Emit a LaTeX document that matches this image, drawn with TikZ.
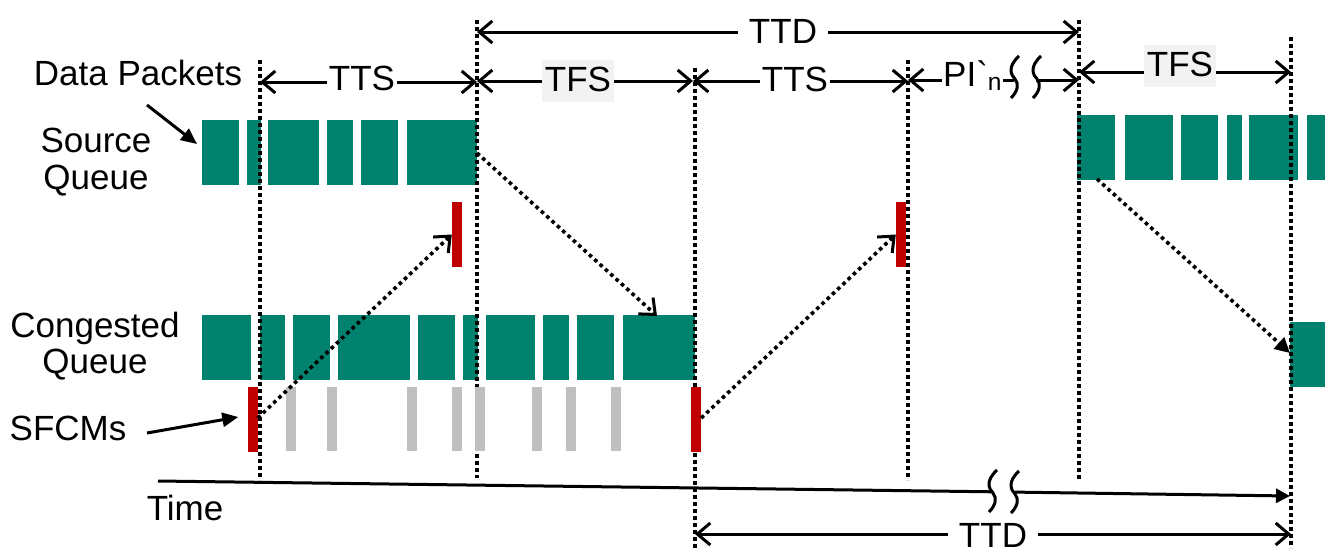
\documentclass[tikz,border=0pt]{standalone}
\usepackage{fontspec}
\setmainfont{Liberation Sans}
\usetikzlibrary{arrows.meta}
\definecolor{tealc}{HTML}{00826F}
\definecolor{redc}{HTML}{C00000}
\definecolor{grayc}{HTML}{BFBFBF}
\definecolor{lblbg}{HTML}{F2F2F2}
\newcommand\squigmark[2]{\draw[line width=3pt] (#1+4,#2-21) .. controls (#1-8,#2-10) and (#1-4,#2-2) .. (#1,#2+2) .. controls (#1+4,#2+7) and (#1+3,#2+14) .. (#1-4,#2+21);}
\begin{document}
\begin{tikzpicture}[x=1pt,y=-1pt,font=\fontsize{35}{40}\selectfont,
  txt/.style={inner sep=0pt,anchor=base},
  dimlbl/.style={fill=white,inner xsep=2pt,inner ysep=0pt,text height=25pt,text depth=3pt,anchor=base},
  ttdlbl/.style={dimlbl,inner xsep=11pt},
  graylbl/.style={fill=lblbg,inner xsep=3pt,inner ysep=6pt,text height=25pt,text depth=5pt,anchor=base},
  barb/.tip={Straight Barb[length=13pt,width=22pt]},
  dim/.style={line width=3pt,barb-barb},
  dimend/.style={line width=3pt,-barb},
  dimstart/.style={line width=3pt,barb-},
  vdot/.style={line width=3.6pt,dash pattern=on 3.6pt off 3.4pt},
  darr/.style={line width=3.6pt,dash pattern=on 3.6pt off 3.6pt,-{Straight Barb[length=13pt,width=22pt,line width=3pt]}},
  darrf/.style={line width=3.6pt,dash pattern=on 3.6pt off 3.6pt,-{Triangle[length=15pt,width=15pt]}},
  pointer/.style={line width=3pt,-{Triangle[length=16pt,width=14pt]}},
  redbar/.style={fill=redc,inner sep=0pt,minimum width=10pt,minimum height=65pt},
  graybar/.style={fill=grayc,inner sep=0pt,minimum width=10pt,minimum height=64pt},
  pkt/.style={fill=tealc}]
\useasboundingbox (0,0) rectangle (1325,558);

% packets: source queue (left)
\foreach \a/\b in {202/239,247/261,268/319,327/353,361/398,407/477}
  \fill[pkt] (\a,120) rectangle (\b,185);
% source queue (right)
\foreach \a/\b in {1077/1115,1125/1173,1181/1218,1227/1242,1249/1298,1307/1325}
  \fill[pkt] (\a,115) rectangle (\b,180);
% congested queue
\foreach \a/\b in {202/251,260/285,293/330,338/410,418/455,463/478,486/535,543/569,577/614,623/695}
  \fill[pkt] (\a,315) rectangle (\b,380);
\fill[pkt] (1290,322) rectangle (1325,387);

% vertical dotted lines
\coordinate (v1t) at (260,60);   \coordinate (v1b) at (260,480);
\coordinate (v2t) at (477,20);   \coordinate (v2b) at (477,478);
\coordinate (v3t) at (695,68);   \coordinate (v3b) at (695,548);
\coordinate (v4t) at (908,60);   \coordinate (v4b) at (908,480);
\coordinate (v5t) at (1079,20);  \coordinate (v5b) at (1079,480);
\coordinate (v6t) at (1291,37);  \coordinate (v6b) at (1291,548);
\foreach \i in {1,...,6} \draw[vdot] (v\i t) -- (v\i b);

% SFCM bars
\foreach \c [count=\i] in {291,332,412,457,480,537,571,616}
  \node[graybar] (g\i) at (\c,419) {};
\node[redbar] (s1) at (252.5,419) {};
\node[redbar] (s2) at (696,419) {};
\node[redbar] (r1) at (457,234.5) {};
\node[redbar] (r2) at (901,234.5) {};

% dimension arrows
\draw[dim] (477,32) -- (1079,32);
\node[ttdlbl] (ttdtop) at (783,43) {TTD};
\draw[dim] (260,82) -- (477,82);
\node[dimlbl] (tts1) at (362,90) {TTS};
\draw[dim] (477,81) -- (693,81);
\node[graylbl] (tfs1) at (578,91) {TFS};
\draw[dim] (693,81) -- (908,81);
\node[dimlbl] (tts2) at (795,91) {TTS};
\draw[dimstart] (908,80) -- (1014,80);
\draw[dimend] (1036,80) -- (1079,80);
\node[dimlbl,anchor=base west,inner xsep=1pt] (pin) at (942,86) {PI\textasciigrave\textsubscript{n}};
\squigmark{1015}{77}
\squigmark{1037}{77}
\draw[dim] (1079,72) -- (1291,72);
\node[graylbl] (tfs2) at (1180,76) {TFS};
\draw[dim] (695,534) -- (1291,534);
\node[ttdlbl] (ttdbot) at (993,547) {TTD};

% time axis
\coordinate (t0) at (158,481);
\coordinate (t1) at (993,491.8);
\coordinate (t2) at (1015,492.1);
\coordinate (t3) at (1290,496);
\draw[line width=3pt] (t0) -- (t1);
\draw[line width=3pt,-{Triangle[length=14pt,width=14pt]}] (t2) -- (t3);
\squigmark{993}{491}
\squigmark{1015}{492}
\node[txt] (time) at (185,520) {Time};

% labels
\node[txt] (dp) at (138,85) {Data Packets};
\node[txt] (srcq1) at (96,152) {Source};
\node[txt] (srcq2) at (96,189) {Queue};
\node[txt] (cq1) at (95,337) {Congested};
\node[txt] (cq2) at (95,373) {Queue};
\node[txt] (sf) at (68,440) {SFCMs};

\coordinate (dpa) at (147,105);
\coordinate (dpb) at (197,144);
\draw[pointer] (dpa) -- (dpb);
\coordinate (sfa) at (147,433);
\draw[pointer] (sfa) -- ([xshift=-9pt,yshift=2pt]s1.west);

% dotted arrows
\draw[darr] ([yshift=1pt]s1.east) -- ([yshift=0pt]r1.west);
\coordinate (q1) at (477,153);
\coordinate (q2) at (657,316);
\draw[darr] (q1) -- (q2);
\draw[darr] ([yshift=1pt]s2.east) -- ([yshift=0pt]r2.west);
\coordinate (q3) at (1097,179);
\coordinate (q4) at (1290,353);
\draw[darrf] (q3) -- (q4);
\end{tikzpicture}
\end{document}
